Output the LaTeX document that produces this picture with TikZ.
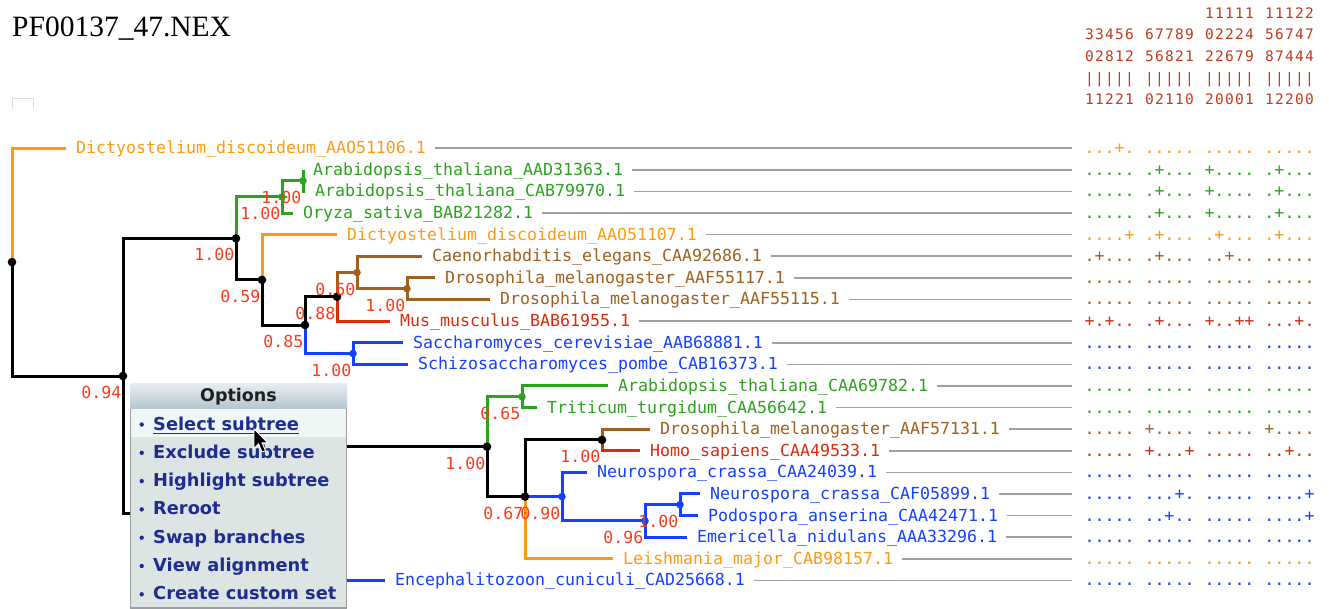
\documentclass[tikz,border=0pt]{standalone}
\usepackage{fontspec}
\setmainfont{Liberation Serif}
\newfontfamily\monof{DejaVu Sans Mono}
\newfontfamily\menuf{DejaVu Sans}
\usetikzlibrary{calc}

\definecolor{clOrange}{HTML}{FF9A12}
\definecolor{clGreen}{HTML}{2CA21E}
\definecolor{clBrown}{HTML}{A0601E}
\definecolor{clRed}{HTML}{DC2A0A}
\definecolor{clBlue}{HTML}{1440FF}
\definecolor{clBoot}{HTML}{FA3C1E}
\definecolor{clGuide}{HTML}{A0A0A0}
\definecolor{clHead}{HTML}{C23A1C}
\definecolor{clMenuText}{HTML}{1E2D8F}
\definecolor{clMenuBody}{HTML}{DCE4E4}
\definecolor{clMenuHi}{HTML}{EEF6F6}
\definecolor{clMenuTop}{HTML}{E8EEF2}
\definecolor{clMenuBot}{HTML}{B6C7D0}
\definecolor{clMenuEdge}{HTML}{9A9FA2}

% one character per 10pt cell, so the site columns line up
\makeatletter
\newcommand\gridcells[1]{\@tfor\gridch:=#1\do{\makebox[10pt]{\gridch}}}
\makeatother
\newcommand\alnrow[4]{\gridcells{#1}\hspace{10pt}\gridcells{#2}\hspace{10pt}\gridcells{#3}\hspace{10pt}\gridcells{#4}}

\tikzset{
  edge/.style={line width=3pt},
  guide/.style={draw=clGuide, line width=1.6pt},
  tip/.style={font=\monof\fontsize{16.6}{19}\selectfont, anchor=base west, inner sep=0pt},
  boot/.style={font=\monof\fontsize{16.6}{19}\selectfont, text=clBoot, anchor=base east, inner sep=0pt},
  aln/.style={font=\monof\fontsize{16.6}{19}\selectfont, anchor=base west, inner sep=0pt},
  hdr/.style={font=\monof\fontsize{14.5}{16}\selectfont, text=clHead, anchor=base west, inner sep=0pt},
  menuitem/.style={font=\menuf\bfseries\fontsize{17.8}{20}\selectfont, text=clMenuText, anchor=base west, inner sep=0pt},
}

\begin{document}
\begin{tikzpicture}[x=1pt,y=-1pt]
\useasboundingbox (0,0) rectangle (1329,609);
\fill[white] (0,0) rectangle (1329,609);

% title and placeholder box
\node[anchor=base west, inner sep=0pt, font=\fontsize{29.5}{32}\selectfont] (title) at (12,36.7) {PF00137\_47.NEX};
\draw[black!13, line width=1pt] (12.5,109) -- (12.5,98.5) -- (33,98.5) -- (33,109);

% site numbers above the columns
\node[hdr] (h1) at (1204.3,18.3) {\gridcells{11111}\hspace{10pt}\gridcells{11122}};
\node[hdr] (h2) at (1084.3,39.9) {\alnrow{33456}{67789}{02224}{56747}};
\node[hdr] (h3) at (1084.3,61.5) {\alnrow{02812}{56821}{22679}{87444}};
\node[hdr] (h4) at (1084.3,83.1) {\alnrow{|||||}{|||||}{|||||}{|||||}};
\node[hdr] (h5) at (1084.3,104.7) {\alnrow{11221}{02110}{20001}{12200}};

% leaves: label, guide line and site pattern
\foreach \i/\lx/\cl/\txt/\al in {
 1/76/clOrange/Dictyostelium\_discoideum\_AAO51106.1/{...+.}{.....}{.....}{.....},
 2/313/clGreen/Arabidopsis\_thaliana\_AAD31363.1/{.....}{.+...}{+....}{.+...},
 3/315/clGreen/Arabidopsis\_thaliana\_CAB79970.1/{.....}{.+...}{+....}{.+...},
 4/303/clGreen/Oryza\_sativa\_BAB21282.1/{.....}{.+...}{+....}{.+...},
 5/347/clOrange/Dictyostelium\_discoideum\_AAO51107.1/{....+}{.+...}{.+...}{.+...},
 6/432/clBrown/Caenorhabditis\_elegans\_CAA92686.1/{.+...}{.+...}{..+..}{.....},
 7/445/clBrown/Drosophila\_melanogaster\_AAF55117.1/{.....}{.....}{.....}{.....},
 8/500/clBrown/Drosophila\_melanogaster\_AAF55115.1/{.....}{.....}{.....}{.....},
 9/400/clRed/Mus\_musculus\_BAB61955.1/{+.+..}{.+...}{+..++}{...+.},
 10/413/clBlue/Saccharomyces\_cerevisiae\_AAB68881.1/{.....}{.....}{.....}{.....},
 11/418/clBlue/Schizosaccharomyces\_pombe\_CAB16373.1/{.....}{.....}{.....}{.....},
 12/618/clGreen/Arabidopsis\_thaliana\_CAA69782.1/{.....}{.....}{.....}{.....},
 13/547/clGreen/Triticum\_turgidum\_CAA56642.1/{.....}{.....}{.....}{.....},
 14/660/clBrown/Drosophila\_melanogaster\_AAF57131.1/{.....}{+....}{.....}{+....},
 15/650/clRed/Homo\_sapiens\_CAA49533.1/{.....}{+...+}{.....}{..+..},
 16/597/clBlue/Neurospora\_crassa\_CAA24039.1/{.....}{.....}{.....}{.....},
 17/710/clBlue/Neurospora\_crassa\_CAF05899.1/{.....}{...+.}{.....}{....+},
 18/708/clBlue/Podospora\_anserina\_CAA42471.1/{.....}{..+..}{.....}{....+},
 19/697/clBlue/Emericella\_nidulans\_AAA33296.1/{.....}{.....}{.....}{.....},
 20/623/clOrange/Leishmania\_major\_CAB98157.1/{.....}{.....}{.....}{.....},
 21/395/clBlue/Encephalitozoon\_cuniculi\_CAD25668.1/{.....}{.....}{.....}{.....}}{
  \pgfmathsetmacro\ry{148.3+21.6*(\i-1)}
  \coordinate (l\i) at (\lx-10,\ry);
  \coordinate (g\i) at (1072,\ry);
  \node[tip,text=\cl] (t\i) at (\lx,\ry+5.5) {\txt};
  \draw[guide] ($(t\i.east |- l\i)+(9,0)$) -- (g\i);
  \node[aln,text=\cl] (a\i) at (1084.3,\ry+5.5) {\expandafter\alnrow\al};
}

% internal nodes
\coordinate (nA) at (303,180.7);
\coordinate (nB) at (282,196.9);
\coordinate (nC) at (407,288.7);
\coordinate (nD) at (357,272.5);
\coordinate (nE) at (337,296.8);
\coordinate (nF) at (353,353.5);
\coordinate (nG) at (305,325.0);
\coordinate (nH) at (262,279.9);
\coordinate (nI) at (236,238.4);
\coordinate (nJ) at (522,396.7);
\coordinate (nK) at (602,439.9);
\coordinate (nL) at (680,504.7);
\coordinate (nM) at (645,520.9);
\coordinate (nN) at (562,496.6);
\coordinate (nO) at (525,496.6);
\coordinate (nP) at (487,446.7);
\coordinate (nQ) at (200,513.5);
\coordinate (nR) at (123,376.0);
\coordinate (nS) at (12,262.1);

% branches
\draw[edge,clOrange] (nS) |- (l1);
\draw[edge] (nS) |- (nR);
\draw[edge] (nR) |- (nI);
\draw[edge] (nR) |- (nQ);
\draw[edge,clGreen] (nI) |- (nB);
\draw[edge] (nI) |- (nH);
\draw[edge,clGreen] (nB) |- (nA);
\draw[edge,clGreen] (nB) |- (l4);
\draw[edge,clGreen] (nA) |- (l2);
\draw[edge,clGreen] (nA) |- (l3);
\draw[edge,clOrange] (nH) |- (l5);
\draw[edge] (nH) |- (nG);
\draw[edge] (nG) |- (nE);
\draw[edge,clBlue] (nG) |- (nF);
\draw[edge,clBrown] (nE) |- (nD);
\draw[edge,clRed] (nE) |- (l9);
\draw[edge,clBrown] (nD) |- (l6);
\draw[edge,clBrown] (nD) |- (nC);
\draw[edge,clBrown] (nC) |- (l7);
\draw[edge,clBrown] (nC) |- (l8);
\draw[edge,clBlue] (nF) |- (l10);
\draw[edge,clBlue] (nF) |- (l11);
\draw[edge] (nQ) |- (nP);
\draw[edge,clBlue] (nQ) |- (l21);
\draw[edge,clGreen] (nP) |- (nJ);
\draw[edge] (nP) |- (nO);
\draw[edge,clGreen] (nJ) |- (l12);
\draw[edge,clGreen] (nJ) |- (l13);
\draw[edge] (nO) |- (nK);
\draw[edge,clBlue] (nO) -- (nN);
\draw[edge,clOrange] (nO) |- (l20);
\draw[edge,clBrown] (nK) |- (l14);
\draw[edge,clRed] (nK) |- (l15);
\draw[edge,clBlue] (nN) |- (l16);
\draw[edge,clBlue] (nN) |- (nM);
\draw[edge,clBlue] (nM) |- (nL);
\draw[edge,clBlue] (nM) |- (l19);
\draw[edge,clBlue] (nL) |- (l17);
\draw[edge,clBlue] (nL) |- (l18);

% node dots
\foreach \n in {nS,nR,nI,nH,nG,nE,nP,nO,nK}
  \fill (\n) circle (4.3);
\foreach \n/\cl in {nA/clGreen,nB/clGreen,nC/clBrown,nD/clBrown,nF/clBlue,nJ/clGreen,nN/clBlue,nM/clBlue,nL/clBlue}
  \fill[\cl] (\n) circle (3.8);

% support values
\foreach \n/\v in {nR/0.94,nI/1.00,nB/1.00,nA/1.00,nH/0.59,nG/0.85,nE/0.88,nD/0.60,nC/1.00,nF/1.00,nP/1.00,nJ/0.65,nO/0.67,nK/1.00,nN/0.90,nM/0.96,nL/1.00}
  \node[boot] (b\n) at ($(\n)+(-1.5,22.5)$) {\v};

% popup menu
\fill[clMenuBody] (130,408) rectangle (347,608);
\fill[clMenuHi] (131,409) rectangle (346,437);
\draw[clMenuEdge, line width=1.2pt] (130.6,408) rectangle (346.4,608);
\shade[top color=clMenuTop, bottom color=clMenuBot] (130,383) rectangle (347,408);
\node[anchor=base, inner sep=0pt, text=black!88, font=\menuf\bfseries\fontsize{17.5}{20}\selectfont] (mhead) at (238.5,401) {Options};
\foreach \k/\txt in {1/Select subtree,2/Exclude subtree,3/Highlight subtree,4/Reroot,5/Swap branches,6/View alignment,7/Create custom set}{
  \pgfmathsetmacro\my{430+28.3*(\k-1)}
  \node[menuitem] (m\k) at (153,\my) {\txt};
  \fill[clMenuText] (141.7,\my-5.5) circle (2.2);
}
\draw[clMenuText, line width=1.3pt] ($(m1.south west)+(0,2.8)$) -- ($(m1.south east)+(0,2.8)$);

% mouse pointer
\begin{scope}[shift={(254,429)}, scale=1.15]
  \filldraw[fill=black, draw=white, line width=0.9pt, line join=miter]
    (0,0) -- (0,17) -- (4,13) -- (7,20) -- (10,19) -- (7,12) -- (12,12) -- cycle;
\end{scope}
\end{tikzpicture}
\end{document}
